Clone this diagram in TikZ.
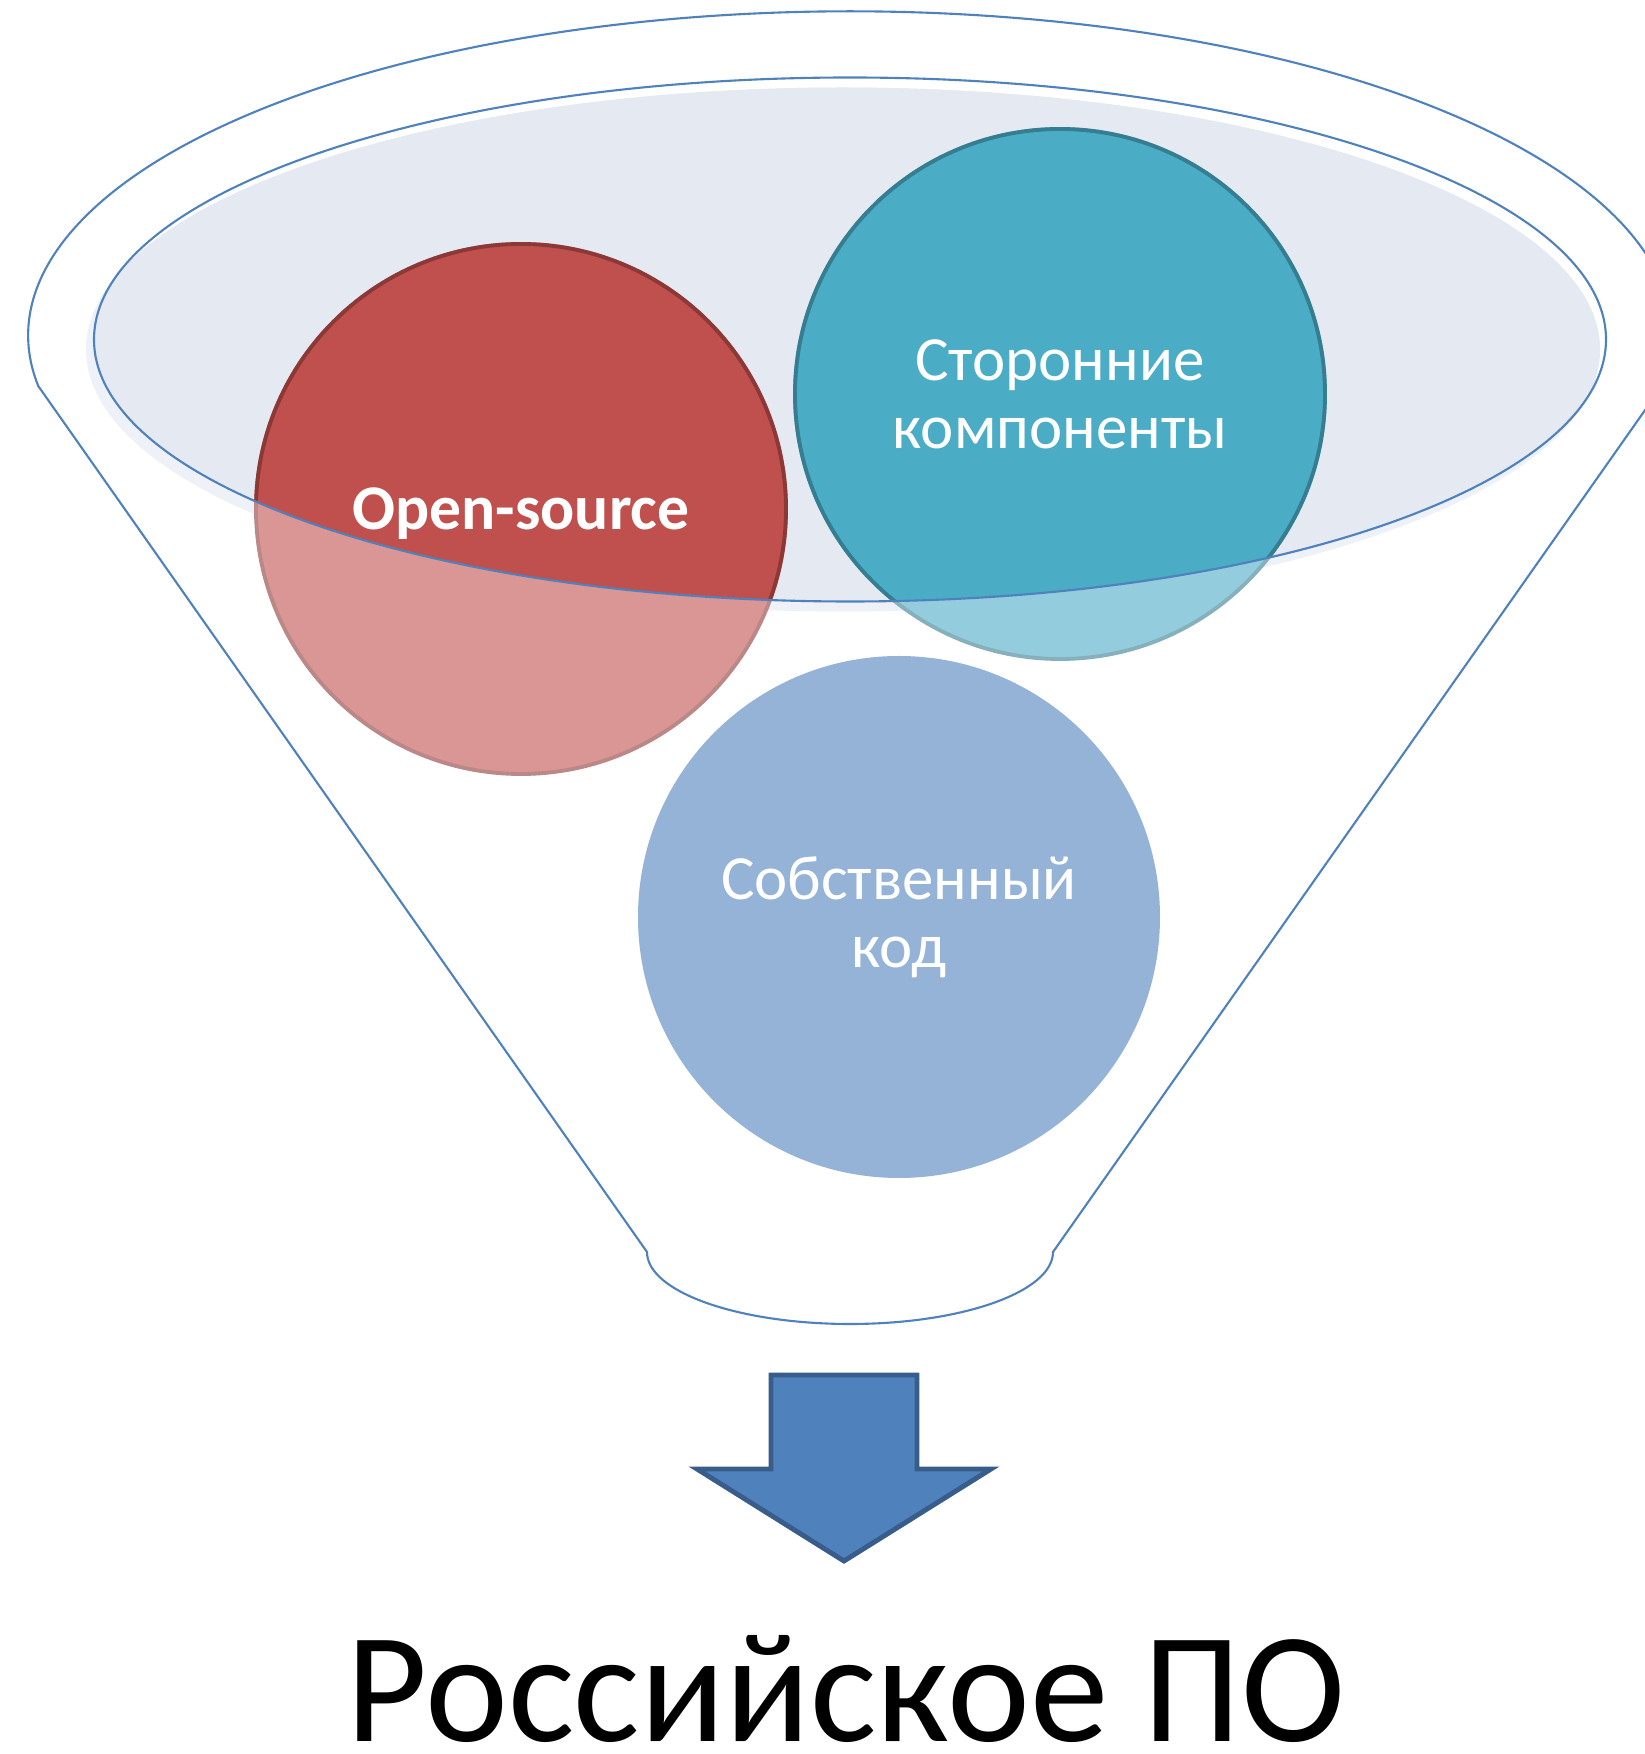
\documentclass[tikz,border=0pt]{standalone}
\usepackage{fontspec}
\setmainfont{Carlito}

\definecolor{funnel}{HTML}{4F81BD}
\definecolor{bowl}{HTML}{E4E9F2}
\definecolor{bowlshade}{HTML}{EEF1F7}
\definecolor{osfill}{HTML}{C0504D}
\definecolor{osline}{HTML}{8C3836}
\definecolor{osfillpale}{HTML}{D99694}
\definecolor{oslinepale}{HTML}{BA8886}
\definecolor{scfill}{HTML}{4BACC6}
\definecolor{scline}{HTML}{357D91}
\definecolor{scfillpale}{HTML}{93CDDD}
\definecolor{sclinepale}{HTML}{86B0BC}
\definecolor{ownfill}{HTML}{95B3D7}
\definecolor{arrowline}{HTML}{385D8A}

\begin{document}
\begin{tikzpicture}[rim/.style={draw=funnel, line width=0.6pt},
 ball/.style={line width=1.1pt},
 lbl/.style={text=white, align=center, inner sep=0pt, font=\fontsize{17.9pt}{19.4pt}\selectfont},
 lblbold/.style={lbl, font=\fontsize{18.1pt}{19.4pt}\selectfont\bfseries}]
\useasboundingbox (0,0) rectangle (16.44,17.54);
\coordinate (os) at (5.21,12.45);
\coordinate (sc) at (10.60,13.60);
\coordinate (own) at (8.99,8.37);
\coordinate (bowl) at (8.50,14.145);
\coordinate (shade) at (8.43,14.045);

\fill[bowlshade] (shade) ellipse [x radius=7.57, y radius=2.62];
\begin{scope}
\clip (shade) ellipse [x radius=7.57, y radius=2.62];
\fill[bowl] (bowl) ellipse [x radius=7.56, y radius=2.62];
\end{scope}

\filldraw[ball, fill=osfillpale, draw=oslinepale] (os) circle [radius=2.65];
\filldraw[ball, fill=scfillpale, draw=sclinepale] (sc) circle [radius=2.65];
\fill[ownfill] (own) circle [radius=2.61];
\begin{scope}
\clip (bowl) ellipse [x radius=7.56, y radius=2.62];
\filldraw[ball, fill=osfill, draw=osline] (os) circle [radius=2.65];
\filldraw[ball, fill=scfill, draw=scline] (sc) circle [radius=2.65];
\end{scope}
\draw[rim] (bowl) ellipse [x radius=7.56, y radius=2.62];

\draw[rim] (6.47,5.02) arc [start angle=180, end angle=360, x radius=2.03, y radius=0.72]
 -- (16.62,13.68) arc [start angle=-9, end angle=189, x radius=8.22, y radius=3.24] -- cycle;

\node[lblbold, yshift=-0.05cm] (ostext) at (os) {Open-source};
\node[lbl] (sctext) at (sc) {Сторонние\\компоненты};
\node[lbl] (owntext) at (own) {Собственный\\код};

\filldraw[fill=funnel, draw=arrowline, line width=1.4pt] (7.71,3.79) -- (9.17,3.79) -- (9.17,2.85)
 -- (9.91,2.85) -- (8.44,1.93) -- (6.97,2.85) -- (7.71,2.85) -- cycle;

\node[font=\fontsize{44.7pt}{54pt}\selectfont, anchor=base, inner sep=0pt] (title) at (8.46,0.13) {Российское ПО};
\end{tikzpicture}
\end{document}
